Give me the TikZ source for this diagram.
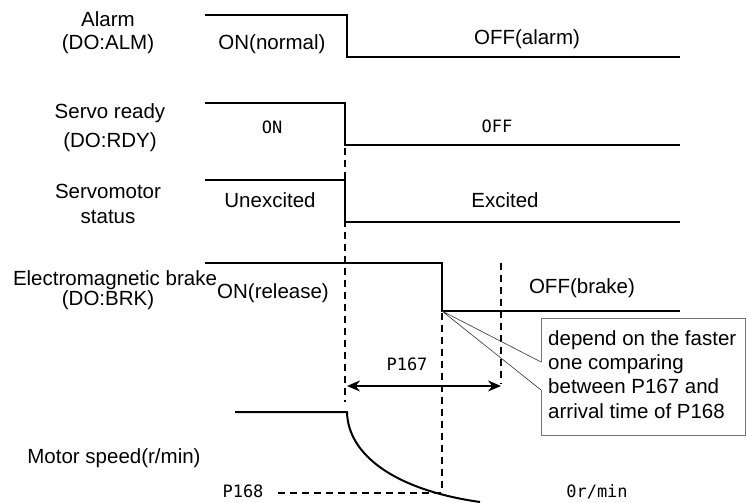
\documentclass[tikz,border=0pt]{standalone}
\usepackage{fontspec}
\setmainfont{Liberation Sans}
\newfontfamily\monof{DejaVu Sans Mono}
\usetikzlibrary{arrows.meta}
\begin{document}
\begin{tikzpicture}[x=1pt,y=-1pt,
 sig/.style={line width=2pt},
 guide/.style={line width=1.1pt, dash pattern=on 7pt off 5pt},
 lab/.style={font=\fontsize{20.5}{24}\selectfont, anchor=base, inner sep=0pt},
 mlab/.style={font=\monof\fontsize{17}{20}\selectfont, anchor=base, inner sep=0pt},
 boxtxt/.style={font=\fontsize{20.5}{24}\selectfont, anchor=base west, inner sep=0pt},
 arr/.style={line width=2pt, {Stealth[length=13pt,width=11pt]}-{Stealth[length=13pt,width=11pt]}},
]
\useasboundingbox (0,0) rectangle (747,503);
% signals
\draw[sig] (205,15) -- (347,15) -- (347,57) -- (680,57);
\draw[sig] (205,103) -- (345,103) -- (345,145) -- (680,145);
\draw[sig] (205,180) -- (345,180) -- (345,222) -- (680,222);
\draw[sig] (205,263) -- (442,263) -- (442,311) -- (680,311);
\draw[sig] (235,412) -- (347,412) .. controls (348,455) and (395,490) .. (480,502);
% guides
\coordinate (g1t) at (345,148); \coordinate (g1b) at (345,402);
\coordinate (g2t) at (442,313); \coordinate (g2b) at (442,493);
\coordinate (g3t) at (501,263); \coordinate (g3b) at (501,384);
\coordinate (p8a) at (278,493);
\draw[guide] (g1t) -- (g1b);
\draw[guide] (g2t) -- (g2b);
\draw[guide] (g3t) -- (g3b);
\draw[guide] (p8a) -- (g2b);
% arrow
\coordinate (a1) at (347,386); \coordinate (a2) at (501,386);
\draw[arr] (a1) -- (a2);
% callout
\coordinate (tip) at (442,311);
\coordinate (w1) at (541,362); \coordinate (w2) at (541,390);
\draw[black!55, line width=0.8pt] (w1) -- (541,318) -- (745,318) -- (745,435) -- (541,435) -- (w2);
\draw[black!80, line width=0.6pt] (tip) -- (w1) (tip) -- (w2);
\node[boxtxt] (b1) at (548,345) {depend on the faster};
\node[boxtxt] (b2) at (548,369) {one comparing};
\node[boxtxt] (b3) at (548,393) {between P167 and};
\node[boxtxt] (b4) at (548,418) {arrival time of P168};
% labels
\node[lab] (l1) at (108,27) {Alarm};
\node[lab] (l2) at (108,50) {(DO:ALM)};
\node[lab] (l3) at (272,50) {ON(normal)};
\node[lab] (l4) at (527,45) {OFF(alarm)};
\node[lab] (l5) at (110,118) {Servo ready};
\node[lab] (l6) at (110,147) {(DO:RDY)};
\node[mlab] (l7) at (272,133) {ON};
\node[mlab] (l8) at (497,132) {OFF};
\node[lab] (l9) at (108,198) {Servomotor};
\node[lab] (l10) at (108,223) {status};
\node[lab] (l11) at (270,207) {Unexcited};
\node[lab] (l12) at (505,207) {Excited};
\node[lab] (l13) at (115,285) {Electromagnetic brake};
\node[lab] (l14) at (108,305) {(DO:BRK)};
\node[lab] (l15) at (273,298) {ON(release)};
\node[lab] (l16) at (582,293) {OFF(brake)};
\node[mlab] (l17) at (407,370) {P167};
\node[lab] (l18) at (114,463) {Motor speed(r/min)};
\node[mlab] (l19) at (243,497) {P168};
\node[mlab] (l20) at (597,497) {0r/min};
\end{tikzpicture}
\end{document}
